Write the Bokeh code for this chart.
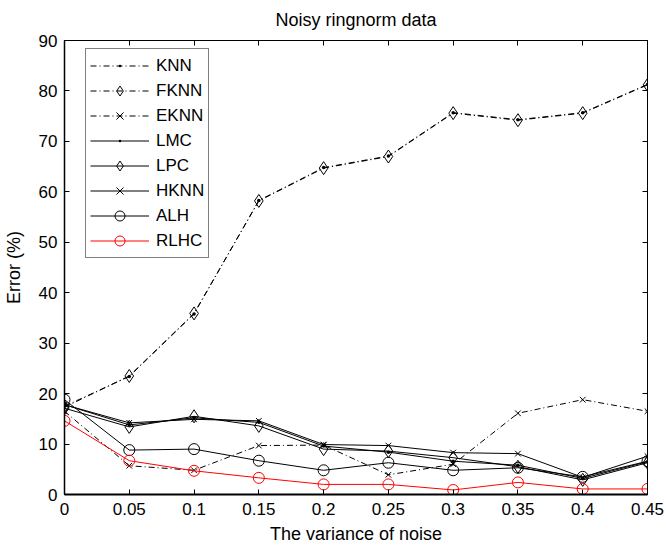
from bokeh.plotting import figure
from bokeh.models import (Range1d, FixedTicker, LinearAxis, Legend, LegendItem,
                          NumeralTickFormatter, CustomJSTickFormatter)
from bokeh.embed import file_html
from bokeh.resources import INLINE

# ---- data -------------------------------------------------------------
noise = [0, 0.05, 0.1, 0.15, 0.2, 0.25, 0.3, 0.35, 0.4, 0.45]
knn = [17.5, 23.4, 35.8, 58.3, 64.8, 67.1, 75.7, 74.3, 75.7, 81.3]
fknn = [17.3, 23.5, 35.9, 58.2, 64.7, 67.0, 75.6, 74.2, 75.6, 81.2]
eknn = [16.5, 5.7, 4.8, 9.7, 9.8, 3.9, 6.0, 16.1, 18.8, 16.5]
lmc = [17.8, 13.8, 15.2, 14.3, 9.6, 8.4, 6.6, 5.8, 3.2, 6.5]
lpc = [17.1, 13.4, 15.5, 13.6, 9.0, 8.6, 7.3, 5.5, 2.9, 6.3]
hknn = [17.8, 14.2, 14.9, 14.6, 9.9, 9.7, 8.3, 8.1, 3.4, 7.6]
alh = [18.8, 8.8, 9.0, 6.7, 4.8, 6.3, 4.8, 5.3, 3.5, 6.6]
rlhc = [14.6, 6.7, 4.7, 3.3, 2.0, 2.0, 0.9, 2.4, 1.1, 1.1]

x_ticks = [0, 0.05, 0.1, 0.15, 0.2, 0.25, 0.3, 0.35, 0.4, 0.45]
y_ticks = [0, 10, 20, 30, 40, 50, 60, 70, 80, 90]

FONT = "Liberation Sans"

p = figure(width=666, height=550, output_backend="svg", toolbar_location=None,
           x_range=Range1d(0, 0.45), y_range=Range1d(0, 90),
           min_border_left=64, min_border_right=19, min_border_top=35,
           min_border_bottom=56, title="Noisy ringnorm data")
p.title.align = "center"
p.title.text_font = FONT
p.title.text_font_size = "18px"
p.title.text_font_style = "normal"
p.title.text_color = "black"
p.title.vertical_align = "top"
p.title.standoff = 18
p.grid.visible = False
p.outline_line_color = "black"
p.outline_line_width = 1
p.background_fill_color = "white"
p.border_fill_color = "white"

# extra axes for top/right ticks (MATLAB box style)
p.add_layout(LinearAxis(), "above")
p.add_layout(LinearAxis(), "right")

for ax in p.axis:
    ax.axis_line_color = "black"
    ax.major_tick_line_color = "black"
    ax.major_tick_in = 5
    ax.major_tick_out = 0
    ax.minor_tick_line_color = None
    ax.major_label_text_font = FONT
    ax.major_label_text_font_size = "17px"
    ax.major_label_text_color = "black"
    ax.axis_label_text_font = FONT
    ax.axis_label_text_font_size = "18px"
    ax.axis_label_text_font_style = "normal"
    ax.axis_label_text_color = "black"

for ax in p.xaxis:
    ax.ticker = FixedTicker(ticks=x_ticks)
    ax.formatter = NumeralTickFormatter(format="0.[00]")
for ax in p.yaxis:
    ax.ticker = FixedTicker(ticks=y_ticks)

p.below[0].axis_label = "The variance of noise"
p.below[0].major_label_standoff = 8
p.below[0].axis_label_standoff = 6
p.left[0].axis_label = "Error (%)"
p.left[0].major_label_standoff = 7
p.left[0].axis_label_standoff = 12
p.below[0].axis_line_width = 2
p.left[0].axis_line_width = 1.5
for ax in (p.above[-1], p.right[0]):
    ax.formatter = CustomJSTickFormatter(code="return ''")
    ax.major_label_standoff = 0

# ---- series ----------------------------------------------------------
series = [
    ("KNN", knn, "6 3 1 3", "dot", 14, "black"),
    ("FKNN", fknn, "6 3 1 3", "diamond", 13, "black"),
    ("EKNN", eknn, "6 3 1 3", "x", 8, "black"),
    ("LMC", lmc, "solid", "dot", 14, "black"),
    ("LPC", lpc, "solid", "diamond", 13, "black"),
    ("HKNN", hknn, "solid", "x", 8, "black"),
    ("ALH", alh, "solid", "circle", 11, "black"),
    ("RLHC", rlhc, "solid", "circle", 11, "red"),
]

items = []
for name, ys, dash, marker, size, color in series:
    lr = p.line(noise, ys, line_color=color, line_width=1, line_dash=dash)
    sr = p.scatter(noise, ys, marker=marker, size=size, line_color=color,
                   line_width=1, fill_color=None)
    items.append(LegendItem(label=name, renderers=[lr, sr]))

legend = Legend(items=items, location=(21, 236))
legend.label_text_font = FONT
legend.label_text_font_size = "17px"
legend.label_text_color = "black"
legend.glyph_width = 59
legend.glyph_height = 25
legend.spacing = 0
legend.padding = 4
legend.margin = 0
legend.label_standoff = 7
legend.border_line_color = "black"
legend.border_line_width = 1
legend.background_fill_alpha = 1
p.add_layout(legend)

open("out.html", "w").write(file_html(p, INLINE))
